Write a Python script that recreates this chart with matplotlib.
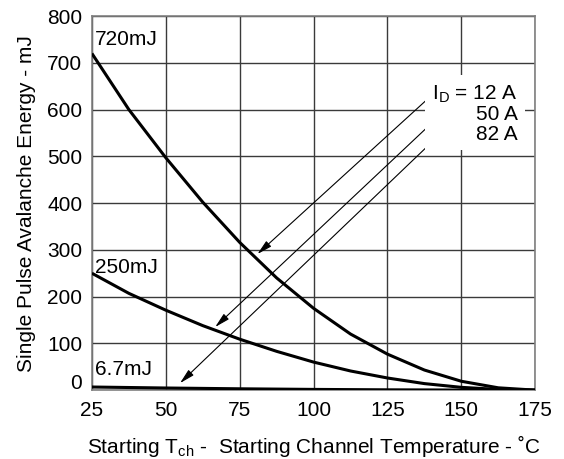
import matplotlib
matplotlib.use("Agg")
import matplotlib.pyplot as plt
import matplotlib.transforms as mtransforms

plt.rcParams['font.family'] = ['Liberation Sans', 'DejaVu Sans']
plt.rcParams['mathtext.fontset'] = 'custom'
plt.rcParams['mathtext.rm'] = 'Liberation Sans'

######### DATA #########
# starting channel temperature (degC) vs single pulse avalanche energy (mJ)
t_720 = [25, 37.5, 50, 62.5, 75, 87.5, 100, 112.5, 125, 137.5, 150, 162.5, 175]
e_720 = [720, 600, 497, 402, 316, 240, 175, 120, 77, 43, 19, 5, 0]

t_250 = [25, 37.5, 50, 62.5, 75, 87.5, 100, 112.5, 125, 137.5, 150, 162.5, 175]
e_250 = [250, 207, 171, 138, 109, 83, 60, 41, 26, 14, 6, 1.5, 0]

t_67 = [25, 50, 75, 100, 125, 150, 175]
e_67 = [6.7, 4.6, 2.9, 1.6, 0.7, 0.2, 0]

x_ticks = [25, 50, 75, 100, 125, 150, 175]
y_ticks = [0, 100, 200, 300, 400, 500, 600, 700, 800]

curve_labels = ["720mJ", "250mJ", "6.7mJ"]
label_y = [750, 263, 45]

# arrows: (start x, start y) -> (tip x, tip y) for ID = 12, 50, 82 A
arrow_start = [(139, 625), (140.8, 576), (140.1, 531)]
arrow_tip = [(81, 291), (66.7, 135), (54.8, 15)]

######### PLOT #########
fig = plt.figure(figsize=(5.64, 4.59), dpi=100)
ax = fig.add_axes([0.163, 0.150, 0.786, 0.815])

for t, e in [(t_720, e_720), (t_250, e_250), (t_67, e_67)]:
    ax.plot(t, e, color='black', lw=2.2, zorder=3, solid_capstyle='butt')

ax.set_xlim(25, 175)
ax.set_ylim(0, 800)
ax.set_xticks(x_ticks)
ax.set_yticks(y_ticks)
ax.tick_params(length=0, labelsize=15, colors='black')
ax.tick_params(axis='x', pad=8)
ax.tick_params(axis='y', pad=7)
ax.grid(True, color='#3a3a3a', lw=1.0)
for s in ax.spines.values():
    s.set_color('#808080')
    s.set_linewidth(1.2)

# the "0" label sits a little above the axis line
zero_lbl = ax.get_yticklabels()[0]
zero_lbl.set_transform(zero_lbl.get_transform() +
                       mtransforms.ScaledTranslation(0, 9 / 100, fig.dpi_scale_trans))

for name, y in zip(curve_labels, label_y):
    ax.text(26, y, name, fontsize=15, va='center', ha='left', zorder=4)

for (x0, y0), (x1, y1) in zip(arrow_start, arrow_tip):
    ax.annotate("", xy=(x1, y1), xytext=(x0, y0),
                arrowprops=dict(arrowstyle='-|>,head_length=0.9,head_width=0.22',
                                color='black', lw=0.8, shrinkA=0, shrinkB=0),
                zorder=4)

ax.text(169.2, 656, "I$_{\\mathregular{D}}$ = 12 A\n50 A\n82 A", fontsize=15,
        ha='right', va='top', multialignment='right', linespacing=1.02, zorder=5,
        bbox=dict(facecolor='white', edgecolor='none', pad=5))

ax.set_ylabel("Single Pulse Avalanche Energy - mJ", fontsize=15, labelpad=8)
ax.set_xlabel("Starting T$_{\\mathregular{ch}}$ -  Starting Channel Temperature - \u02daC",
              fontsize=15, labelpad=9)

fig.savefig("out.png", dpi=100)
